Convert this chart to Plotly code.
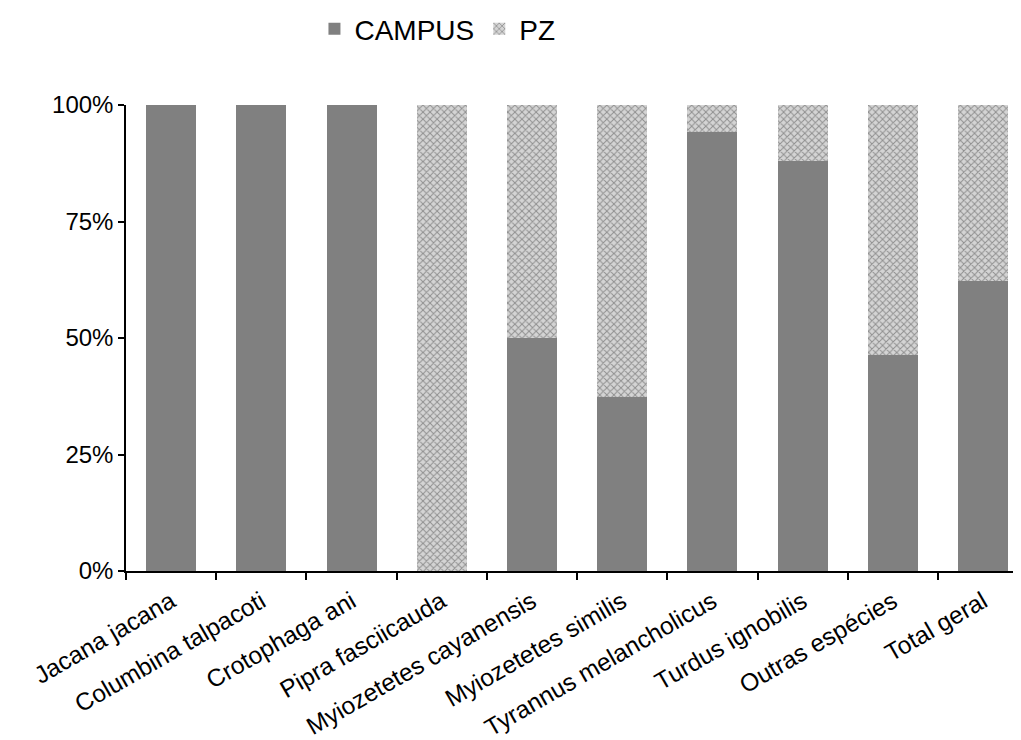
import plotly.graph_objects as go

categories = ["Jacana jacana", "Columbina talpacoti", "Crotophaga ani", "Pipra fasciicauda",
              "Myiozetetes cayanensis", "Myiozetetes similis", "Tyrannus melancholicus",
              "Turdus ignobilis", "Outras espécies", "Total geral"]
campus = [1.0, 1.0, 1.0, 0.0, 0.50, 0.373, 0.943, 0.88, 0.464, 0.623]
pz = [0.0, 0.0, 0.0, 1.0, 0.50, 0.627, 0.057, 0.12, 0.536, 0.377]
y_ticks = [0, 0.25, 0.5, 0.75, 1.0]
y_labels = ["0%", "25%", "50%", "75%", "100%"]

FONT = "Liberation Sans, Arial, sans-serif"

fig = go.Figure()
fig.add_trace(go.Bar(x=categories, y=campus, name="CAMPUS",
                     marker=dict(color="#808080", line=dict(width=0))))
fig.add_trace(go.Bar(x=categories, y=pz, name="PZ",
                     marker=dict(color="#d4d4d4", line=dict(width=0),
                                 pattern=dict(shape="x", fgcolor="#8f8f8f", bgcolor="#d4d4d4",
                                              size=5, solidity=0.35, fillmode="replace"))))

fig.update_layout(
    barmode="stack",
    bargap=0.446,
    width=1013, height=732,
    margin=dict(l=118, r=0, t=97, b=169, autoexpand=False),
    paper_bgcolor="white", plot_bgcolor="white",
    font=dict(family=FONT, size=24, color="black"),
    showlegend=True,
    legend=dict(orientation="h", x=0.348, xanchor="center", y=1.163, yanchor="middle",
                font=dict(size=28, family=FONT), itemwidth=30, traceorder="normal"),
    xaxis=dict(type="category", range=[-0.5, 9.42], showline=True, linecolor="black", linewidth=1.5,
               ticks="outside", tickson="boundaries", ticklen=7, tickcolor="black", tickwidth=1.5,
               tickangle=-30, tickfont=dict(size=24.5, family=FONT), ticklabelstandoff=5,
               showgrid=False, automargin=False),
    yaxis=dict(range=[0, 1], tickvals=y_ticks, ticktext=y_labels, showline=True,
               linecolor="black", linewidth=1.5, ticks="outside", ticklen=6, tickcolor="black",
               tickwidth=1.5, tickfont=dict(size=24, family=FONT), showgrid=False, zeroline=False,
               automargin=False),
)

fig.write_html("out.html")
